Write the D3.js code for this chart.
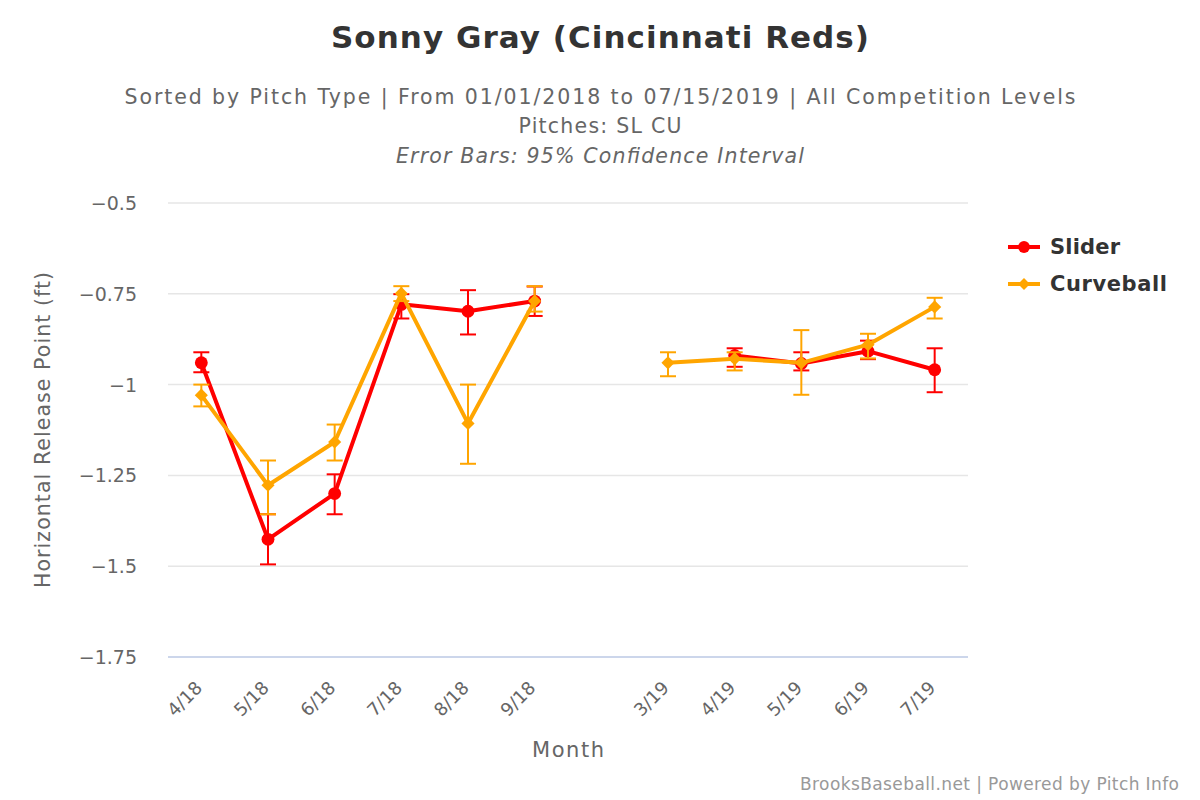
<!DOCTYPE html>
<html>
<head>
<meta charset="utf-8">
<script src="https://cdn.jsdelivr.net/npm/d3@7/dist/d3.min.js"></script>
<style>
  body { margin: 0; background: #fff; }
  svg { font-family: "DejaVu Sans", Verdana, sans-serif; }
</style>
</head>
<body>
<div id="chart"></div>
<script>
// categories (empty slot = off-season gap)
const months = ["4/18", "5/18", "6/18", "7/18", "8/18", "9/18", "", "3/19", "4/19", "5/19", "6/19", "7/19"];

// Slider: mean, low, high
const sliderMean = [-0.94, -1.426, -1.30, -0.779, -0.798, -0.77, null, null, -0.92, -0.942, -0.908, -0.959];
const sliderLow  = [-0.966, -1.495, -1.357, -0.818, -0.862, -0.811, null, null, -0.951, -0.961, -0.93, -1.021];
const sliderHigh = [-0.911, -1.357, -1.247, -0.751, -0.74, -0.73, null, null, -0.90, -0.911, -0.879, -0.90];

// Curveball: mean, low, high
const curveMean = [-1.029, -1.277, -1.158, -0.749, -1.107, -0.77, null, -0.94, -0.929, -0.94, -0.89, -0.786];
const curveLow  = [-1.06, -1.357, -1.209, -0.77, -1.218, -0.799, null, -0.977, -0.961, -1.028, -0.928, -0.818];
const curveHigh = [-1.0, -1.209, -1.11, -0.729, -1.0, -0.729, null, -0.911, -0.911, -0.85, -0.86, -0.761];

const yTicks = [-0.5, -0.75, -1, -1.25, -1.5, -1.75];

const W = 1200, H = 800;
const margin = {top: 203, right: 232, bottom: 143, left: 168},
    width = W - margin.left - margin.right,
    height = H - margin.top - margin.bottom;

const svg = d3.select("#chart").append("svg")
    .attr("width", W).attr("height", H);

// helper: text stretched to the width it has in the original
const label = (sel, txt, len) => sel.text(txt)
    .attr("textLength", len).attr("lengthAdjust", "spacing");

// titles
label(svg.append("text").attr("x", 600).attr("y", 48)
    .attr("text-anchor", "middle").attr("font-size", 31).attr("font-weight", "bold")
    .attr("fill", "#333"), "Sonny Gray (Cincinnati Reds)", 538);
const sub = [["Sorted by Pitch Type | From 01/01/2018 to 07/15/2019 | All Competition Levels", 104, "normal", 951],
             ["Pitches: SL CU", 133, "normal", 163],
             ["Error Bars: 95% Confidence Interval", 163, "italic", 408]];
sub.forEach(s => {
    label(svg.append("text").attr("x", 600).attr("y", s[1])
        .attr("text-anchor", "middle").attr("font-size", 20.5).attr("font-style", s[2])
        .attr("fill", "#666"), s[0], s[3]);
});

const g = svg.append("g").attr("transform", `translate(${margin.left},${margin.top})`);

const x = d3.scalePoint().domain(d3.range(months.length)).range([0, width]).padding(0.5);
const y = d3.scaleLinear().domain([-1.75, -0.5]).range([height, 0]);

// grid
g.selectAll("line.grid").data(yTicks).join("line")
    .attr("class", "grid")
    .attr("x1", 0).attr("x2", width)
    .attr("y1", d => y(d)).attr("y2", d => y(d))
    .attr("stroke", d => d === -1.75 ? "#ccd6eb" : "#e6e6e6")
    .attr("stroke-width", d => d === -1.75 ? 2 : 1.5);

// y labels
const fmt = d => (d < 0 ? "\u2212" : "") + Math.abs(d);
g.selectAll("text.ytick").data(yTicks).join("text")
    .attr("class", "ytick")
    .attr("x", -31).attr("y", d => y(d) + 7)
    .attr("text-anchor", "end").attr("font-size", 19).attr("fill", "#666")
    .text(fmt);

// x labels
g.selectAll("text.xtick").data(months.map((m, i) => ({m, i})).filter(d => d.m)).join("text")
    .attr("class", "xtick")
    .attr("transform", d => `translate(${x(d.i) + 2},${height + 32}) rotate(-45)`)
    .attr("text-anchor", "end").attr("font-size", 18).attr("fill", "#666")
    .text(d => d.m);

// axis titles
label(svg.append("text")
    .attr("transform", `translate(50,${margin.top + height / 2}) rotate(-90)`)
    .attr("text-anchor", "middle").attr("font-size", 20.5).attr("fill", "#666"),
    "Horizontal Release Point (ft)", 316);
label(svg.append("text").attr("x", margin.left + width / 2).attr("y", 757)
    .attr("text-anchor", "middle").attr("font-size", 21).attr("fill", "#666"),
    "Month", 72);

// footer
label(svg.append("text").attr("x", 1179).attr("y", 790)
    .attr("text-anchor", "end").attr("font-size", 17).attr("fill", "#999"),
    "BrooksBaseball.net | Powered by Pitch Info", 379);

const series = [
    {name: "Slider", color: "#ff0000", mean: sliderMean, low: sliderLow, high: sliderHigh, marker: "circle", len: 70},
    {name: "Curveball", color: "#ffa500", mean: curveMean, low: curveLow, high: curveHigh, marker: "diamond", len: 117}
];

const line = d3.line()
    .defined(d => d.v !== null)
    .x(d => x(d.i)).y(d => y(d.v));

series.forEach(s => {
    const pts = s.mean.map((v, i) => ({v, i}));
    const sg = g.append("g");
    sg.append("path").datum(pts)
        .attr("d", line).attr("fill", "none")
        .attr("stroke", s.color).attr("stroke-width", 4)
        .attr("stroke-linejoin", "round").attr("stroke-linecap", "round");

    const sym = d3.symbol().type(s.marker === "circle" ? d3.symbolCircle : d3.symbolDiamond2)
        .size(s.marker === "circle" ? 130 : 110);
    sg.selectAll("path.pt").data(pts.filter(d => d.v !== null)).join("path")
        .attr("class", "pt")
        .attr("transform", d => `translate(${x(d.i)},${y(d.v)})`)
        .attr("d", sym).attr("fill", s.color);

    // error bars
    const eb = s.low.map((lo, i) => ({lo, hi: s.high[i], i})).filter(d => d.lo !== null);
    const bars = sg.selectAll("g.eb").data(eb).join("g").attr("class", "eb")
        .attr("stroke", s.color).attr("stroke-width", 2);
    bars.append("line")
        .attr("x1", d => x(d.i)).attr("x2", d => x(d.i))
        .attr("y1", d => y(d.lo)).attr("y2", d => y(d.hi));
    bars.append("line")
        .attr("x1", d => x(d.i) - 8).attr("x2", d => x(d.i) + 8)
        .attr("y1", d => y(d.lo)).attr("y2", d => y(d.lo));
    bars.append("line")
        .attr("x1", d => x(d.i) - 8).attr("x2", d => x(d.i) + 8)
        .attr("y1", d => y(d.hi)).attr("y2", d => y(d.hi));
});

// legend
const lg = svg.append("g").attr("transform", "translate(1008,247)");
series.forEach((s, k) => {
    const row = lg.append("g").attr("transform", `translate(0,${k * 37})`);
    row.append("line").attr("x1", 0).attr("x2", 32).attr("y1", 0).attr("y2", 0)
        .attr("stroke", s.color).attr("stroke-width", 4);
    row.append("path").attr("transform", "translate(16,0)")
        .attr("d", d3.symbol().type(s.marker === "circle" ? d3.symbolCircle : d3.symbolDiamond2)
            .size(s.marker === "circle" ? 110 : 90)())
        .attr("fill", s.color);
    label(row.append("text").attr("x", 42).attr("y", 7)
        .attr("font-size", 21).attr("font-weight", "bold").attr("fill", "#333"),
        s.name, s.len);
});
</script>
</body>
</html>
